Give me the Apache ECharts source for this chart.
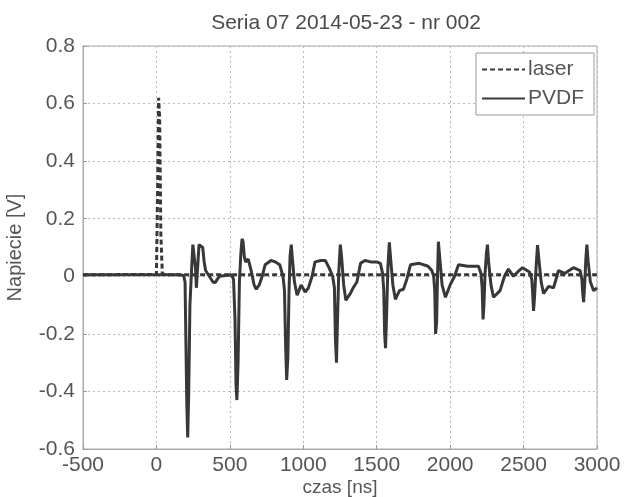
<!DOCTYPE html>
<html>
<head>
<meta charset="utf-8">
<script src="https://cdn.jsdelivr.net/npm/echarts@6/dist/echarts.min.js"></script>
<style>
html,body{margin:0;padding:0;background:#fff;}
#chart{width:628px;height:497px;}
</style>
</head>
<body>
<div id="chart"></div>
<script>
// ---- data ----
var titleText = 'Seria 07 2014-05-23 - nr 002';
var xName = 'czas [ns]';
var yName = 'Napiecie [V]';
var seriesNames = ['laser', 'PVDF'];

var laserTime = [-500, -200, 0, 8, 15, 22, 30, 40, 60, 500, 1000, 1500, 2000, 2500, 3000];
var laserVolt = [0.005, 0.006, 0.006, 0.3, 0.62, 0.55, 0.15, 0.01, 0.005, 0.005, 0.005, 0.005, 0.005, 0.005, 0.005];

var pvdfTime = [-500, 150, 185, 195, 200, 207, 213, 220, 228, 240, 248, 258, 266, 272, 277, 283, 290, 300, 315, 325, 335, 360, 385, 400, 415, 430,
  510, 525, 535, 542, 548, 556, 565, 575, 583, 590, 598, 607, 625, 645, 665, 680, 700, 720, 740, 780, 810, 840, 862,
  872, 880, 887, 895, 903, 910, 918, 926, 940, 958, 985, 1013, 1035, 1060, 1080, 1120, 1150, 1175, 1200,
  1212, 1219, 1226, 1233, 1242, 1252, 1262, 1275, 1290, 1320, 1340, 1365, 1390, 1420, 1460, 1500, 1525, 1540,
  1548, 1554, 1560, 1567, 1576, 1586, 1595, 1610, 1627, 1655, 1682, 1705, 1730, 1790, 1850, 1875, 1888,
  1895, 1901, 1908, 1914, 1920, 1930, 1945, 1968, 2000, 2030, 2057, 2120, 2193, 2210,
  2218, 2224, 2230, 2238, 2247, 2254, 2262, 2278, 2295, 2340, 2370, 2397, 2431, 2460, 2493, 2540, 2556,
  2562, 2568, 2575, 2585, 2595, 2604, 2620, 2636, 2670, 2704, 2738, 2780, 2810, 2840, 2885, 2897,
  2903, 2909, 2916, 2924, 2931, 2940, 2955, 2977, 3000];
var pvdfVolt = [0.005, 0.005, 0.003, -0.02, -0.2, -0.45, -0.56, -0.4, -0.1, 0.03, 0.11, 0.11, 0.03, -0.04, -0.04, 0.05, 0.11, 0.11, 0.1, 0.05, 0.02, 0.0, -0.02, -0.022, -0.01, 0.0,
  0.005, -0.01, -0.15, -0.38, -0.43, -0.3, -0.02, 0.08, 0.13, 0.12, 0.07, 0.05, 0.06, 0.02, -0.03, -0.045, -0.03, 0.0, 0.04, 0.055, 0.05, 0.04, 0.0,
  -0.05, -0.25, -0.36, -0.28, -0.05, 0.07, 0.11, 0.06, -0.02, -0.066, -0.03, -0.055, -0.04, 0.0, 0.05, 0.055, 0.055, 0.03, 0.0,
  -0.04, -0.22, -0.3, -0.15, 0.02, 0.11, 0.06, -0.03, -0.083, -0.06, -0.04, -0.02, 0.045, 0.055, 0.05, 0.05, 0.045, 0.01,
  -0.05, -0.2, -0.25, -0.14, 0.03, 0.118, 0.06, -0.03, -0.08, -0.05, -0.045, -0.01, 0.04, 0.045, 0.035, 0.02, 0.0,
  -0.05, -0.2, -0.16, 0.0, 0.12, 0.06, -0.03, -0.073, -0.03, 0.0, 0.04, 0.035, 0.035, 0.01,
  -0.04, -0.15, -0.1, 0.01, 0.08, 0.11, 0.05, -0.03, -0.073, -0.05, 0.0, 0.025, 0.0, 0.015, 0.03, 0.015, -0.01,
  -0.06, -0.12, -0.07, 0.03, 0.108, 0.06, -0.02, -0.06, -0.035, -0.04, 0.02, 0.01, 0.02, 0.03, 0.02, -0.01,
  -0.06, -0.09, -0.03, 0.06, 0.11, 0.05, -0.02, -0.05, -0.04];

var xMin = -500, xMax = 3000, xStep = 500;
var yMin = -0.6, yMax = 0.8, yStep = 0.2;

// ---- build ----
function pairs(xs, ys) { return xs.map(function (x, i) { return [x, ys[i]]; }); }

var FONT = 'Liberation Sans, Arial, sans-serif';
var TXT = '#555';
var LINE = '#383838';

var chart = echarts.init(document.getElementById('chart'), null, { renderer: 'canvas' });
chart.setOption({
  animation: false,
  backgroundColor: '#fff',
  title: {
    text: titleText, left: 341, top: 8, textAlign: 'center',
    textStyle: { fontFamily: FONT, fontSize: 21, fontWeight: 'normal', color: '#4a4a4a' }
  },
  grid: {
    left: 83, right: 31, top: 46, bottom: 48, show: true, borderColor: '#aaa', borderWidth: 1,
    containLabel: false, outerBoundsMode: 'none'
  },
  legend: {
    data: seriesNames, orient: 'vertical', right: 34, top: 53,
    backgroundColor: '#fff', borderColor: '#999', borderWidth: 1,
    padding: [6, 10, 6, 5], itemGap: 8, itemWidth: 43, itemHeight: 14,
    itemStyle: { opacity: 0 },
    textStyle: { fontFamily: FONT, fontSize: 21, color: TXT, padding: [0, 0, 0, -2] }
  },
  xAxis: {
    type: 'value', min: xMin, max: xMax, interval: xStep,
    name: xName, nameLocation: 'middle', nameGap: 29, nameMoveOverlap: false,
    nameTextStyle: { fontFamily: FONT, fontSize: 19, color: TXT },
    axisLine: { show: true, onZero: false, lineStyle: { color: '#aaa' } },
    axisTick: { show: true, inside: true, length: 4, lineStyle: { color: '#999' } },
    axisLabel: { fontFamily: FONT, fontSize: 21, color: TXT, margin: 6, formatter: function (v) { return String(v); } },
    splitLine: { show: true, lineStyle: { color: '#bbb', type: [2, 3] } }
  },
  yAxis: {
    type: 'value', min: yMin, max: yMax, interval: yStep,
    name: yName, nameLocation: 'middle', nameGap: 58, nameMoveOverlap: false,
    nameTextStyle: { fontFamily: FONT, fontSize: 20, color: TXT },
    axisLine: { show: true, onZero: false, lineStyle: { color: '#aaa' } },
    axisTick: { show: true, inside: true, length: 4, lineStyle: { color: '#999' } },
    axisLabel: {
      fontFamily: FONT, fontSize: 21, color: TXT, margin: 8,
      formatter: function (v) { var r = Math.round(v * 10) / 10; return r === 0 ? '0' : String(r); }
    },
    splitLine: { show: true, lineStyle: { color: '#bbb', type: [2, 3] } }
  },
  series: [
    {
      name: seriesNames[0], type: 'line', data: pairs(laserTime, laserVolt),
      symbol: 'none', z: 3,
      lineStyle: { color: LINE, width: 3, type: [5, 3] },
      itemStyle: { color: LINE }
    },
    {
      name: seriesNames[1], type: 'line', data: pairs(pvdfTime, pvdfVolt),
      symbol: 'none', z: 2,
      lineStyle: { color: LINE, width: 3 },
      itemStyle: { color: LINE }
    }
  ]
});
</script>
</body>
</html>
